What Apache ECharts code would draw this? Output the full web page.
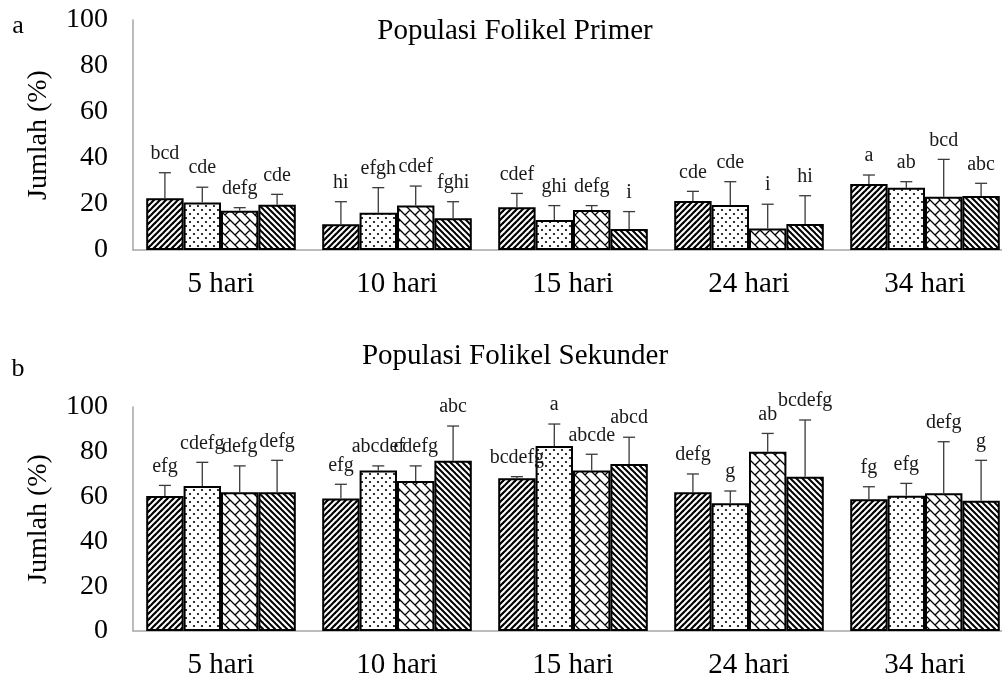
<!DOCTYPE html>
<html>
<head>
<meta charset="utf-8">
<script src="https://cdn.jsdelivr.net/npm/echarts@6/dist/echarts.min.js"></script>
<style>
  html, body { margin: 0; padding: 0; background: #fff; }
  #chart { width: 1002px; height: 679px; }
</style>
</head>
<body>
<div id="chart"></div>
<script>
// kategori (hari)
var categories = ['5 hari', '10 hari', '15 hari', '24 hari', '34 hari'];
var yTicks = [0, 20, 40, 60, 80, 100];

// a. Populasi Folikel Primer : rata-rata, SD, huruf
var primer1 = [22.5, 11.2, 18.6, 21.3, 28.7];
var primer2 = [20.7, 16.2, 13.0, 19.6, 27.1];
var primer3 = [17.1, 19.3, 17.4, 9.4, 23.2];
var primer4 = [19.7, 13.8, 9.1, 11.3, 23.5];
var primerSd1 = [11.1, 9.8, 6.0, 4.2, 3.9];
var primerSd2 = [6.6, 10.9, 6.3, 10.1, 2.6];
var primerSd3 = [1.3, 8.5, 1.9, 10.5, 16.2];
var primerSd4 = [4.5, 7.2, 7.6, 12.3, 5.5];
var primerHuruf1 = ['bcd', 'hi', 'cdef', 'cde', 'a'];
var primerHuruf2 = ['cde', 'efgh', 'ghi', 'cde', 'ab'];
var primerHuruf3 = ['defg', 'cdef', 'defg', 'i', 'bcd'];
var primerHuruf4 = ['cde', 'fghi', 'i', 'hi', 'abc'];

// b. Populasi Folikel Sekunder
var sekunder1 = [60.3, 59.2, 68.2, 61.9, 58.8];
var sekunder2 = [64.7, 71.6, 82.6, 57.0, 60.4];
var sekunder3 = [61.9, 67.0, 71.6, 80.0, 61.5];
var sekunder4 = [61.9, 76.0, 74.6, 68.9, 58.2];
var sekunderSd1 = [4.7, 6.3, 0.7, 8.2, 5.6];
var sekunderSd2 = [10.6, 2.1, 9.8, 5.5, 5.5];
var sekunderSd3 = [11.8, 6.7, 7.3, 8.2, 23.0];
var sekunderSd4 = [14.3, 15.5, 11.9, 25.3, 18.0];
var sekunderHuruf1 = ['efg', 'efg', 'bcdefg', 'defg', 'fg'];
var sekunderHuruf2 = ['cdefg', 'abcdef', 'a', 'g', 'efg'];
var sekunderHuruf3 = ['defg', 'cdefg', 'abcde', 'ab', 'defg'];
var sekunderHuruf4 = ['defg', 'abc', 'abcd', 'bcdefg', 'g'];

var FONT = '"Liberation Serif", "Times New Roman", serif';
var GAP = 0.15;

// pola arsiran
function stripes(dir) {
  var c = document.createElement('canvas');
  c.width = 6; c.height = 6;
  var ctx = c.getContext('2d');
  ctx.fillStyle = '#fff'; ctx.fillRect(0, 0, 6, 6);
  ctx.strokeStyle = '#000'; ctx.lineWidth = dir > 0 ? 2.2 : 2.0;
  for (var k = -1; k <= 1; k++) {
    ctx.beginPath();
    if (dir > 0) { ctx.moveTo(-1 + 6 * k, 7); ctx.lineTo(7 + 6 * k, -1); }
    else { ctx.moveTo(-1 + 6 * k, -1); ctx.lineTo(7 + 6 * k, 7); }
    ctx.stroke();
  }
  return { image: c, repeat: 'repeat' };
}
function dots() {
  var c = document.createElement('canvas');
  c.width = 8; c.height = 8;
  var ctx = c.getContext('2d');
  ctx.fillStyle = '#fff'; ctx.fillRect(0, 0, 8, 8);
  ctx.fillStyle = '#000';
  [[2, 2], [6, 6]].forEach(function (p) {
    ctx.beginPath(); ctx.arc(p[0], p[1], 1.1, 0, Math.PI * 2); ctx.fill();
  });
  return { image: c, repeat: 'repeat' };
}
function bricks() {
  var T = 20, w = T / Math.SQRT2, h = w / 2;
  var c = document.createElement('canvas');
  c.width = T; c.height = T;
  var ctx = c.getContext('2d');
  ctx.fillStyle = '#fff'; ctx.fillRect(0, 0, T, T);
  ctx.translate(T / 2, T / 2);
  ctx.rotate(Math.PI / 4);
  ctx.strokeStyle = '#000'; ctx.lineWidth = 1.3;
  ctx.beginPath();
  for (var j = -6; j <= 6; j++) {
    ctx.moveTo(-40, j * h); ctx.lineTo(40, j * h);
    for (var i = -6; i <= 6; i++) {
      var u = i * w + (Math.abs(j) % 2 ? w / 2 : 0);
      ctx.moveTo(u, j * h); ctx.lineTo(u, (j + 1) * h);
    }
  }
  ctx.stroke();
  return { image: c, repeat: 'repeat' };
}
var patterns = [stripes(1), dots(), bricks(), stripes(-1)];

function barSeries(data, s, gi) {
  return {
    type: 'bar', data: data, xAxisIndex: gi, yAxisIndex: gi,
    barGap: '0%', barCategoryGap: (GAP * 100) + '%',
    itemStyle: { color: patterns[s], borderColor: '#000', borderWidth: 2 },
    silent: true
  };
}

function errSeries(mean, sd, huruf, s, gi) {
  return {
    type: 'custom', xAxisIndex: gi, yAxisIndex: gi, z: 5, clip: false, silent: true,
    data: mean.map(function (m, i) { return [i, m, m + sd[i]]; }),
    renderItem: function (params, api) {
      var i = api.value(0);
      var catW = api.size([1, 0])[0];
      var bw = catW * (1 - GAP) / 4;
      var cx = api.coord([i, 0])[0] + (s - 1.5) * bw;
      var yMean = api.coord([i, api.value(1)])[1];
      var yTop = api.coord([i, api.value(2)])[1];
      var line = { stroke: '#3a3a3a', lineWidth: 1.3 };
      return {
        type: 'group',
        children: [
          { type: 'line', shape: { x1: cx, y1: yMean, x2: cx, y2: yTop }, style: line },
          { type: 'line', shape: { x1: cx - 6, y1: yTop, x2: cx + 6, y2: yTop }, style: line },
          { type: 'text', x: cx, y: yTop - 9,
            style: { text: huruf[params.dataIndex], fill: '#1a1a1a', font: '20px ' + FONT,
                     align: 'center', verticalAlign: 'bottom' } }
        ]
      };
    }
  };
}

function xAxis(gi) {
  return {
    type: 'category', gridIndex: gi, data: categories,
    axisLine: { lineStyle: { color: '#a6a6a6', width: 1.5 } },
    axisTick: { show: false },
    axisLabel: { color: '#000', fontFamily: FONT, fontSize: 29, margin: 20 }
  };
}
function yAxis(gi) {
  return {
    type: 'value', gridIndex: gi, min: yTicks[0], max: yTicks[yTicks.length - 1], interval: 20,
    name: 'Jumlah (%)', nameLocation: 'middle', nameGap: 80,
    nameTextStyle: { color: '#000', fontFamily: FONT, fontSize: 28 },
    axisLine: { show: true, lineStyle: { color: '#a6a6a6', width: 1.5 } },
    axisTick: { show: false },
    splitLine: { show: false },
    axisLabel: { color: '#000', fontFamily: FONT, fontSize: 28, margin: 25 }
  };
}

var chart = echarts.init(document.getElementById('chart'), null, { renderer: 'canvas' });

var option = {
  animation: false,
  backgroundColor: '#fff',
  grid: [
    { left: 133, top: 20, width: 880, height: 230, outerBoundsMode: 'none' },
    { left: 133, top: 407, width: 880, height: 224, outerBoundsMode: 'none' }
  ],
  xAxis: [xAxis(0), xAxis(1)],
  yAxis: [yAxis(0), yAxis(1)],
  graphic: [
    { type: 'text', x: 515, y: 31, style: { text: 'Populasi Folikel Primer', font: '29px ' + FONT, fill: '#000', align: 'center', verticalAlign: 'middle' } },
    { type: 'text', x: 515, y: 356, style: { text: 'Populasi Folikel Sekunder', font: '29px ' + FONT, fill: '#000', align: 'center', verticalAlign: 'middle' } },
    { type: 'text', x: 18, y: 26, style: { text: 'a', font: '26px ' + FONT, fill: '#000', align: 'center', verticalAlign: 'middle' } },
    { type: 'text', x: 18, y: 369, style: { text: 'b', font: '26px ' + FONT, fill: '#000', align: 'center', verticalAlign: 'middle' } }
  ],
  series: [
    barSeries(primer1, 0, 0), barSeries(primer2, 1, 0), barSeries(primer3, 2, 0), barSeries(primer4, 3, 0),
    barSeries(sekunder1, 0, 1), barSeries(sekunder2, 1, 1), barSeries(sekunder3, 2, 1), barSeries(sekunder4, 3, 1),
    errSeries(primer1, primerSd1, primerHuruf1, 0, 0),
    errSeries(primer2, primerSd2, primerHuruf2, 1, 0),
    errSeries(primer3, primerSd3, primerHuruf3, 2, 0),
    errSeries(primer4, primerSd4, primerHuruf4, 3, 0),
    errSeries(sekunder1, sekunderSd1, sekunderHuruf1, 0, 1),
    errSeries(sekunder2, sekunderSd2, sekunderHuruf2, 1, 1),
    errSeries(sekunder3, sekunderSd3, sekunderHuruf3, 2, 1),
    errSeries(sekunder4, sekunderSd4, sekunderHuruf4, 3, 1)
  ]
};

chart.setOption(option);
</script>
</body>
</html>
